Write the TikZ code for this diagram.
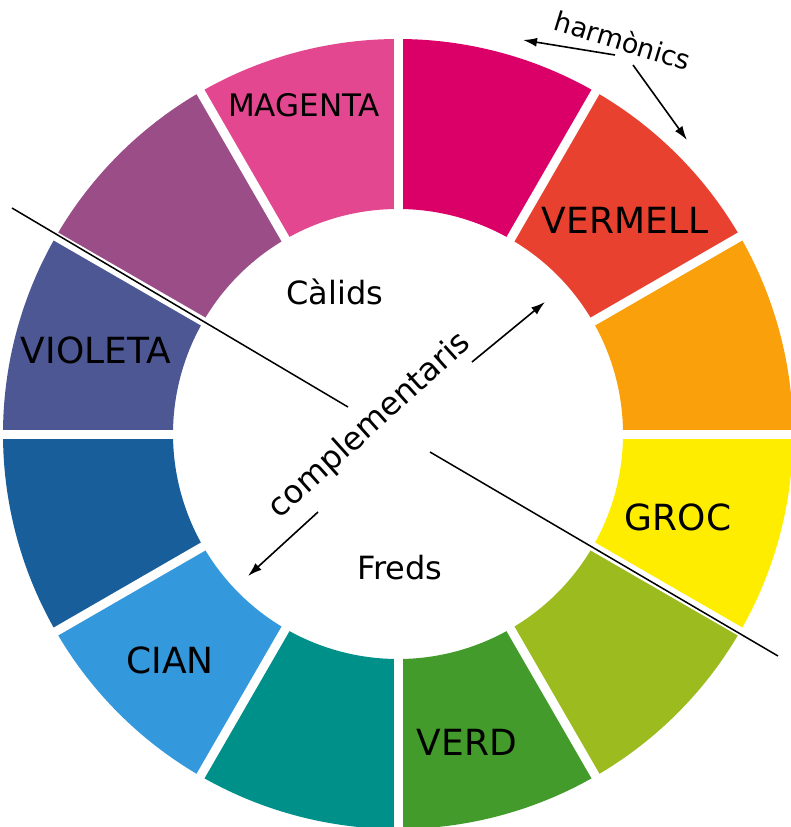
\documentclass[tikz,border=0pt]{standalone}
\usepackage{fontspec}
\setmainfont{DejaVu Sans}
\usetikzlibrary{calc,arrows.meta}
\begin{document}
\begin{tikzpicture}[x=1pt,y=1pt,
  lab/.style={font=\fontsize{36}{36}\selectfont},
  mid/.style={font=\fontsize{32}{32}\selectfont},
  con/.style={line width=1.5pt},
  arr/.style={line width=1.6pt,-{Latex[length=14pt,width=9pt]}}]
\useasboundingbox (0,0) rectangle (790,-827);
\coordinate (c) at (398,-434);
\def\Ro{395}\def\Ri{225}
\definecolor{s1}{HTML}{DB0068}
\definecolor{s2}{HTML}{E94130}
\definecolor{s3}{HTML}{F9A00A}
\definecolor{s4}{HTML}{FFED00}
\definecolor{s5}{HTML}{9CBB1E}
\definecolor{s6}{HTML}{429B2A}
\definecolor{s7}{HTML}{00908A}
\definecolor{s8}{HTML}{3399DC}
\definecolor{s9}{HTML}{175E9B}
\definecolor{s10}{HTML}{4D5794}
\definecolor{s11}{HTML}{9A4D87}
\definecolor{s12}{HTML}{E2478F}
\foreach \a/\col in {60/s1,30/s2,0/s3,-30/s4,-60/s5,-90/s6,-120/s7,-150/s8,180/s9,150/s10,120/s11,90/s12}{
  \fill[\col] ($(c)+(\a:\Ri)$) -- ($(c)+(\a:\Ro)$) arc[start angle=\a,end angle=\a+30,radius=\Ro] -- ($(c)+(\a+30:\Ri)$) arc[start angle=\a+30,end angle=\a,radius=\Ri] -- cycle;
}
\foreach \a in {0,30,...,330}{
  \draw[white,line width=9pt] ($(c)+(\a:\Ri-5)$) -- ($(c)+(\a:\Ro+5)$);
}
\node[lab,font=\fontsize{31}{31}\selectfont] (magenta) at (304,-105) {MAGENTA};
\node[lab] (vermell) at (625,-220) {VERMELL};
\node[lab] (violeta) at (96,-350) {VIOLETA};
\node[lab] (groc) at (678,-517) {GROC};
\node[lab] (cian) at (170,-660) {CIAN};
\node[lab] (verd) at (467,-742) {VERD};
\node[mid] (calids) at (335,-292) {Càlids};
\node[mid] (freds) at (400,-568) {Freds};
\node[mid,rotate=42] (comp) at (370,-426) {complementaris};
\node[font=\fontsize{27}{27}\selectfont,rotate=-17] (harm) at (623,-40) {harmònics};
\coordinate (l1a) at (12,-208); \coordinate (l1b) at (348,-407);
\coordinate (l2a) at (430,-452); \coordinate (l2b) at (778,-656);
\draw[con] (l1a) -- (l1b);
\draw[con] (l2a) -- (l2b);
\coordinate (a1s) at (472,-362); \coordinate (a1e) at (545,-302);
\coordinate (a2s) at (318,-512); \coordinate (a2e) at (248,-576);
\draw[arr] (a1s) -- (a1e);
\draw[arr] (a2s) -- (a2e);
\coordinate (h1s) at (615,-55); \coordinate (h1e) at (523,-40);
\coordinate (h2s) at (633,-65); \coordinate (h2e) at (687,-140);
\draw[arr] (h1s) -- (h1e);
\draw[arr] (h2s) -- (h2e);
\end{tikzpicture}
\end{document}
